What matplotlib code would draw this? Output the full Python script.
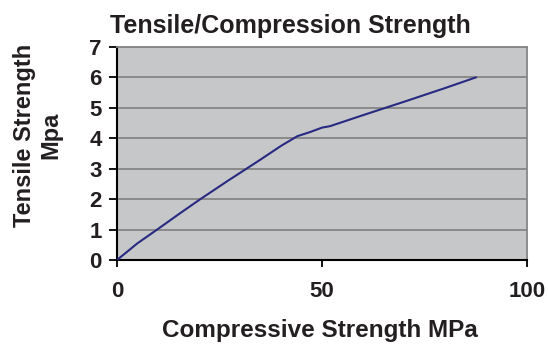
import matplotlib
matplotlib.use("Agg")
import matplotlib.pyplot as plt

# Data
compressive = [0, 5, 10, 15, 20, 27, 35, 40, 44, 47, 50, 52, 60, 70, 80, 87.5]
tensile = [0, 0.55, 1.02, 1.5, 1.97, 2.6, 3.3, 3.75, 4.07, 4.2, 4.35, 4.4, 4.76, 5.2, 5.65, 6.0]
x_ticks = [0, 50, 100]
y_ticks = [0, 1, 2, 3, 4, 5, 6, 7]

plt.rcParams['font.family'] = ['Liberation Sans', 'DejaVu Sans']
txt = '#231f20'

fig = plt.figure(figsize=(5.48, 3.47), dpi=100)
ax = fig.add_axes([117 / 548, 87 / 347, 410 / 548, 213 / 347])
ax.set_facecolor('#c6c7c9')

ax.plot(compressive, tensile, color='#272a80', lw=1.5, zorder=3)

ax.set_xlim(0, 100)
ax.set_ylim(0, 7)
ax.set_xticks(x_ticks)
ax.set_yticks(y_ticks)
ax.grid(axis='y', color='#858585', lw=1.3, zorder=1)
ax.set_axisbelow(True)

for s in ['top', 'right']:
    ax.spines[s].set_color('#858585')
    ax.spines[s].set_linewidth(1.3)
for s in ['left', 'bottom']:
    ax.spines[s].set_color('black')
    ax.spines[s].set_linewidth(1.5)

ax.tick_params(axis='y', length=6, width=1.3, pad=5, labelsize=16, labelcolor=txt)
ax.tick_params(axis='x', length=5, width=1.3, pad=10, labelsize=16, labelcolor=txt)
for lab in ax.get_xticklabels() + ax.get_yticklabels():
    lab.set_fontweight('bold')

fig.text(290 / 548, 1 - 33 / 347, 'Tensile/Compression Strength', ha='center',
         va='baseline', fontsize=18, fontweight='bold', color=txt)
fig.text(320 / 548, 1 - 337 / 347, 'Compressive Strength MPa', ha='center',
         va='baseline', fontsize=17.5, fontweight='bold', color=txt)
fig.text(38 / 548, 1 - 135 / 347, 'Tensile Strength\nMpa', ha='center', va='center',
         rotation=90, fontsize=17, fontweight='bold', color=txt, linespacing=1.2)

fig.savefig('out.png', dpi=100)
